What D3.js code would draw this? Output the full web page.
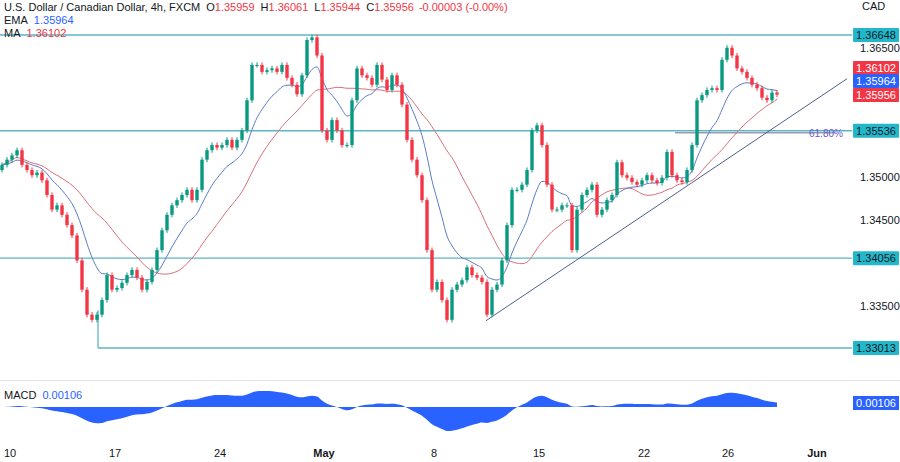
<!DOCTYPE html>
<html><head><meta charset="utf-8">
<script src="https://cdn.jsdelivr.net/npm/d3@7"></script>
<style>body{margin:0;background:#fff}svg{font-family:"Liberation Sans",Arial,sans-serif}</style>
</head><body><svg width="900" height="462"></svg>
<script>
// Closes, one per candle (4h USD/CAD)
const closes = [
  1.3514,1.3520,1.3525,1.3531,1.3514,1.3508,1.3502,1.3505,1.3496,1.3479,1.3462,1.3467,1.3456,1.3444,1.3432,1.3403,
  1.3369,1.3340,1.3334,1.3340,1.3357,1.3386,1.3369,1.3371,1.3377,1.3386,1.3392,1.3383,1.3369,1.3378,1.3392,1.3415,
  1.3438,1.3456,1.3467,1.3473,1.3479,1.3485,1.3473,1.3485,1.3520,1.3531,1.3537,1.3534,1.3537,1.3543,1.3534,1.3543,
  1.3554,1.3589,1.3630,1.3630,1.3622,1.3624,1.3626,1.3622,1.3630,1.3615,1.3607,1.3596,1.3618,1.3659,1.3662,1.3641,
  1.3554,1.3543,1.3566,1.3554,1.3537,1.3537,1.3589,1.3626,1.3618,1.3615,1.3607,1.3630,1.3613,1.3601,1.3618,1.3607,
  1.3584,1.3543,1.3520,1.3502,1.3473,1.3415,1.3369,1.3378,1.3357,1.3334,1.3369,1.3375,1.3380,1.3395,1.3386,1.3383,
  1.3378,1.3340,1.3369,1.3375,1.3403,1.3444,1.3485,1.3485,1.3491,1.3508,1.3554,1.3560,1.3537,1.3491,1.3462,1.3462,
  1.3467,1.3467,1.3415,1.3462,1.3479,1.3485,1.3491,1.3456,1.3462,1.3473,1.3479,1.3517,1.3502,1.3499,1.3494,1.3491,
  1.3496,1.3502,1.3496,1.3493,1.3499,1.3529,1.3502,1.3496,1.3494,1.3508,1.3537,1.3589,1.3595,1.3601,1.3603,1.3601,
  1.3636,1.3650,1.3641,1.3626,1.3622,1.3615,1.3607,1.3603,1.3592,1.3589,1.3598,1.35956
];
const firstOpen = 1.3508;
const wick = 0.0003;
const tickIdx = [1.6, 22.6, 43.6, 64.4, 86.4, 107.4, 128.4, 145.2, 163];
const tickLabels = ["10", "17", "24", "May", "8", "15", "22", "26", "Jun"];
const levels = [1.36648, 1.35536, 1.34056, 1.33013];
const levelStart = [0, 0, 0, 98];
const priceTicks = [1.365, 1.35, 1.345, 1.335];
const fibLevel = 1.35536, fibLabel = "61.80%";
const trend = [{i: 96.8, p: 1.3333}, {i: 169, p: 1.3614}];

const green = "#089981", red = "#f23645", teal = "#5fb5c4";
const svg = d3.select("svg");

const x = d3.scaleLinear().domain([0, 155]).range([2, 777]);
const y = d3.scaleLinear().domain([1.33013, 1.36648]).range([348, 35]);

const candles = closes.map((c, i) => {
  const o = i ? closes[i - 1] : firstOpen;
  return {i, o, c, h: Math.max(o, c) + wick, l: Math.min(o, c) - wick};
});

// indicators
function ema(vals, n) {
  const k = 2 / (n + 1); let e = vals[0];
  return vals.map(v => (e = v * k + e * (1 - k)));
}
function sma(vals, n) {
  return vals.map((v, i) => d3.mean(vals.slice(Math.max(0, i - n + 1), i + 1)));
}
const emaVals = ema(closes, 10);
const maVals = sma(closes, 21);
const e12 = ema(closes, 9), e26 = ema(closes, 19);
const macd = e12.map((v, i) => v - e26[i]);

// level lines
levels.forEach((lv, k) => {
  svg.append("line").attr("x1", levelStart[k]).attr("x2", 852)
    .attr("y1", y(lv)).attr("y2", y(lv)).attr("stroke", teal).attr("stroke-width", 1.3);
});
svg.append("line").attr("x1", 98).attr("x2", 98).attr("y1", y(1.33013)).attr("y2", y(1.3345))
  .attr("stroke", teal).attr("stroke-width", 1.3);
// fib
svg.append("line").attr("x1", 675).attr("x2", 835).attr("y1", y(fibLevel) + 2).attr("y2", y(fibLevel) + 2)
  .attr("stroke", "#9a9ea8").attr("stroke-width", 1.5);
svg.append("text").attr("x", 809).attr("y", y(fibLevel) + 6).attr("fill", "#6a5acd")
  .attr("font-size", 10).text(fibLabel);

// trend line
svg.append("line").attr("x1", x(trend[0].i)).attr("y1", y(trend[0].p))
  .attr("x2", x(trend[1].i)).attr("y2", y(trend[1].p)).attr("stroke", "#4f5f91").attr("stroke-width", 1);

// MAs
const line = d3.line().x((d, i) => x(i)).y(d => y(d)).curve(d3.curveMonotoneX);
svg.append("path").attr("d", line(maVals)).attr("fill", "none").attr("stroke", "#d9707a").attr("stroke-width", 1);
svg.append("path").attr("d", line(emaVals)).attr("fill", "none").attr("stroke", "#5b7cc4").attr("stroke-width", 1);

// candles
const g = svg.append("g");
g.selectAll("line.w").data(candles).join("line")
  .attr("x1", d => x(d.i)).attr("x2", d => x(d.i)).attr("y1", d => y(d.h)).attr("y2", d => y(d.l))
  .attr("stroke", d => d.c >= d.o ? green : red).attr("stroke-width", 1);
g.selectAll("rect").data(candles).join("rect")
  .attr("x", d => x(d.i) - 1.7).attr("width", 3.4)
  .attr("y", d => y(Math.max(d.o, d.c))).attr("height", d => Math.max(1, Math.abs(y(d.o) - y(d.c))))
  .attr("fill", d => d.c >= d.o ? green : red);

// price axis
svg.append("text").attr("x", 862).attr("y", 10).attr("font-size", 11).attr("fill", "#131722").text("CAD");
priceTicks.forEach(p => svg.append("text").attr("x", 860).attr("y", y(p) + 4)
  .attr("font-size", 11).attr("fill", "#131722").text(p.toFixed(5)));
function tag(yy, txt, bg, fg) {
  svg.append("rect").attr("x", 853).attr("y", yy - 7).attr("width", 46).attr("height", 14).attr("fill", bg).attr("rx", 1);
  svg.append("text").attr("x", 876).attr("y", yy + 4).attr("text-anchor", "middle")
    .attr("font-size", 11).attr("fill", fg).text(txt);
}
levels.forEach(lv => tag(y(lv), lv.toFixed(5), "#22b8cc", "#131722"));
tag(68, "1.36102", red, "#fff");
tag(81, "1.35964", "#2962ff", "#fff");
tag(95, closes[closes.length - 1].toFixed(5), red, "#fff");

// legend
const leg = svg.append("text").attr("x", 4).attr("y", 11).attr("font-size", 11).attr("fill", "#131722");
leg.append("tspan").text("U.S. Dollar / Canadian Dollar, 4h, FXCM");
[["O", "1.35959"], ["H", "1.36061"], ["L", "1.35944"], ["C", "1.35956"]].forEach(([s, v]) => {
  leg.append("tspan").attr("dx", 6).text(s);
  leg.append("tspan").attr("fill", red).text(v);
});
leg.append("tspan").attr("dx", 5).attr("fill", red).text("-0.00003 (-0.00%)");
const l2 = svg.append("text").attr("x", 4).attr("y", 24).attr("font-size", 11).attr("fill", "#131722");
l2.append("tspan").text("EMA");
l2.append("tspan").attr("dx", 6).attr("fill", "#2962ff").text("1.35964");
const l3 = svg.append("text").attr("x", 4).attr("y", 37).attr("font-size", 11).attr("fill", "#131722");
l3.append("tspan").text("MA");
l3.append("tspan").attr("dx", 6).attr("fill", red).text("1.36102");

// MACD pane
svg.append("line").attr("x1", 0).attr("x2", 900).attr("y1", 380.5).attr("y2", 380.5).attr("stroke", "#e0e3eb");
const mMax = d3.max(macd, Math.abs);
const ym = d3.scaleLinear().domain([-mMax, mMax]).range([431, 383]);
svg.append("path").attr("d", d3.area().x((d, i) => x(i)).y0(ym(0)).y1(d => ym(d)).curve(d3.curveMonotoneX)(macd))
  .attr("fill", "#2962ff");
const ml = svg.append("text").attr("x", 4).attr("y", 399).attr("font-size", 11).attr("fill", "#131722");
ml.append("tspan").text("MACD");
ml.append("tspan").attr("dx", 6).attr("fill", "#2962ff").text("0.00106");
svg.append("rect").attr("x", 853).attr("y", 396).attr("width", 46).attr("height", 14).attr("fill", "#2962ff");
svg.append("text").attr("x", 876).attr("y", 407).attr("text-anchor", "middle").attr("font-size", 11)
  .attr("fill", "#fff").text("0.00106");

// time axis
tickIdx.forEach((t, k) => svg.append("text").attr("x", x(t)).attr("y", 457).attr("text-anchor", "middle")
  .attr("font-size", 11).attr("fill", "#131722")
  .attr("font-weight", tickLabels[k] === "May" || tickLabels[k] === "Jun" ? "bold" : "normal").text(tickLabels[k]));
</script></body></html>
